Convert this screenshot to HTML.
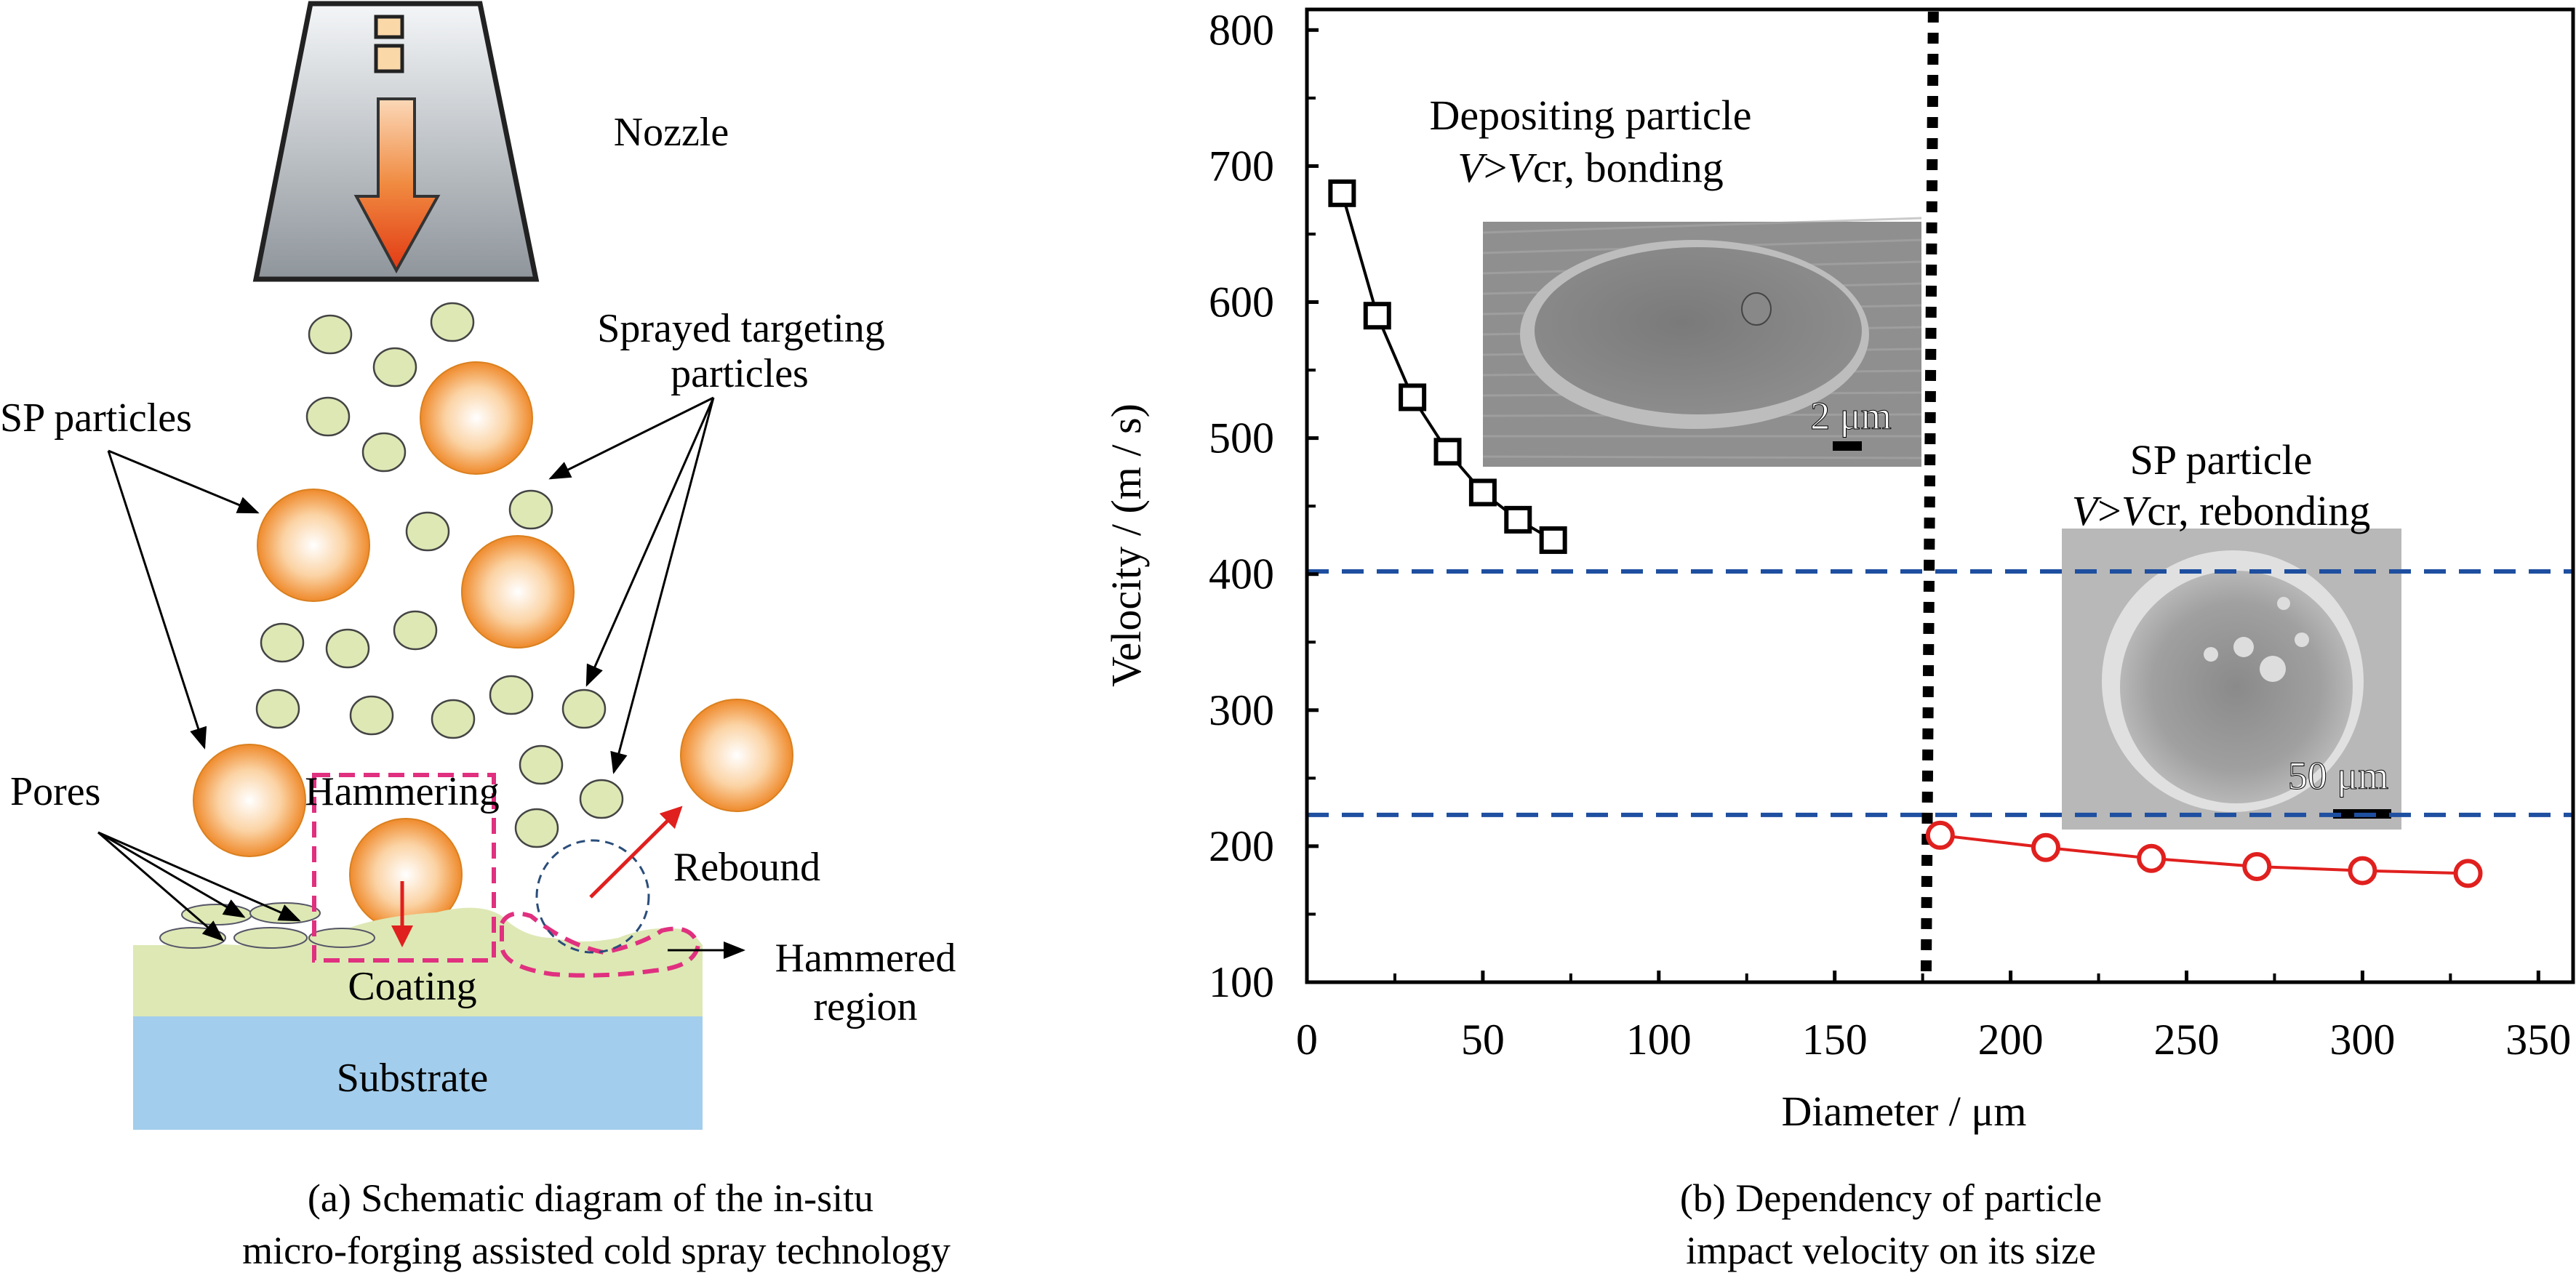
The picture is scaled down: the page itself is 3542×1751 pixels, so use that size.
<!DOCTYPE html>
<html><head><meta charset="utf-8"><style>
html,body{margin:0;padding:0;background:#fff;}
svg{display:block;}
svg text{font-family:"Liberation Serif","Times New Roman","Nimbus Roman","DejaVu Serif","Noto Serif CJK SC",serif;}
</style></head><body>
<svg width="3542" height="1751" viewBox="0 0 3542 1751" xmlns="http://www.w3.org/2000/svg">
<defs>
<linearGradient id="noz" x1="0" y1="0" x2="0" y2="1"><stop offset="0" stop-color="#f4f6f8"/><stop offset="1" stop-color="#8e959b"/></linearGradient>
<linearGradient id="arr" x1="0" y1="0" x2="0" y2="1"><stop offset="0" stop-color="#fbd8b8"/><stop offset="0.5" stop-color="#f08a40"/><stop offset="1" stop-color="#e23a14"/></linearGradient>
<radialGradient id="orb" cx="0.5" cy="0.5" r="0.5"><stop offset="0" stop-color="#fff"/><stop offset="0.55" stop-color="#fbd3a4"/><stop offset="1" stop-color="#ef8a2c"/></radialGradient>
<radialGradient id="sem1" cx="0.45" cy="0.45" r="0.6"><stop offset="0" stop-color="#7a7a7a"/><stop offset="1" stop-color="#8e8e8e"/></radialGradient>
<radialGradient id="sem2" cx="0.5" cy="0.5" r="0.6"><stop offset="0" stop-color="#8a8a8a"/><stop offset="0.6" stop-color="#a0a0a0"/><stop offset="1" stop-color="#c8c8c8"/></radialGradient>
<marker id="ah" markerWidth="10" markerHeight="8" refX="9" refY="4" orient="auto" markerUnits="strokeWidth"><path d="M0,0 L10,4 L0,8 Z" fill="#000"/></marker>
<marker id="ahr" markerWidth="6" markerHeight="6" refX="5" refY="3" orient="auto" markerUnits="strokeWidth"><path d="M0,0 L6,3 L0,6 Z" fill="#e0201e"/></marker>
</defs>

<g>
<polygon points="427,5 660,5 737,384 352,384" fill="url(#noz)" stroke="#222" stroke-width="7"/>
<rect x="517" y="23" width="36" height="28" fill="#fbd8a8" stroke="#222" stroke-width="5"/>
<rect x="517" y="63" width="36" height="35" fill="#fbd8a8" stroke="#222" stroke-width="5"/>
<polygon points="520,136 570,136 570,270 602,270 545,372 490,270 520,270" fill="url(#arr)" stroke="#333" stroke-width="4"/>
<text x="923" y="200" font-size="56" text-anchor="middle">Nozzle</text>

<g fill="#dde8b5" stroke="#444" stroke-width="2.5">
<ellipse cx="454" cy="460" rx="29" ry="26"/><ellipse cx="622" cy="443" rx="29" ry="26"/><ellipse cx="543" cy="505" rx="29" ry="26"/>
<ellipse cx="451" cy="573" rx="29" ry="26"/><ellipse cx="528" cy="622" rx="29" ry="26"/><ellipse cx="588" cy="731" rx="29" ry="26"/>
<ellipse cx="730" cy="701" rx="29" ry="26"/><ellipse cx="388" cy="884" rx="29" ry="26"/><ellipse cx="478" cy="892" rx="29" ry="26"/>
<ellipse cx="571" cy="867" rx="29" ry="26"/><ellipse cx="382" cy="975" rx="29" ry="26"/><ellipse cx="511" cy="984" rx="29" ry="26"/>
<ellipse cx="623" cy="989" rx="29" ry="26"/><ellipse cx="703" cy="956" rx="29" ry="26"/><ellipse cx="803" cy="975" rx="29" ry="26"/>
<ellipse cx="744" cy="1052" rx="29" ry="26"/><ellipse cx="827" cy="1099" rx="29" ry="26"/><ellipse cx="738" cy="1139" rx="29" ry="26"/>
</g>
<g fill="url(#orb)" stroke="#d9801f" stroke-width="2">
<circle cx="655" cy="575" r="77"/><circle cx="431" cy="750" r="77"/><circle cx="712" cy="814" r="77"/>
<circle cx="343" cy="1101" r="77"/><circle cx="558" cy="1203" r="77"/><circle cx="1013" cy="1039" r="77"/>
</g>
<rect x="183" y="1300" width="783" height="100" fill="#dde8b5"/>
<path d="M183,1310 Q250,1295 330,1300 Q420,1290 470,1280 Q520,1260 600,1255 Q660,1240 690,1260 Q720,1290 760,1290 Q800,1300 850,1290 Q900,1270 950,1280 L966,1300 L183,1300 Z" fill="#dde8b5"/>
<rect x="183" y="1398" width="783" height="156" fill="#a3cdec"/>
<g fill="#dde8b5" stroke="#556" stroke-width="2">
<ellipse cx="298" cy="1258" rx="48" ry="14"/><ellipse cx="392" cy="1256" rx="48" ry="14"/><ellipse cx="265" cy="1290" rx="45" ry="14"/><ellipse cx="372" cy="1290" rx="50" ry="14"/><ellipse cx="470" cy="1290" rx="45" ry="13"/>
</g>
<rect x="432" y="1066" width="247" height="255" fill="none" stroke="#e0307f" stroke-width="6" stroke-dasharray="22,12"/>
<path d="M690,1270 Q700,1250 730,1260 Q780,1300 830,1310 Q880,1300 910,1280 Q950,1270 960,1300 Q955,1330 900,1335 Q830,1345 760,1340 Q690,1330 690,1300 Z" fill="none" stroke="#e0307f" stroke-width="6" stroke-dasharray="22,12"/>
<circle cx="815" cy="1233" r="77" fill="none" stroke="#2a4d7a" stroke-width="3" stroke-dasharray="12,8"/>
<line x1="812" y1="1234" x2="935" y2="1112" stroke="#e0201e" stroke-width="5" marker-end="url(#ahr)"/>
<line x1="553" y1="1212" x2="553" y2="1298" stroke="#e0201e" stroke-width="5" marker-end="url(#ahr)"/>
<g stroke="#000" stroke-width="3" fill="none">
<line x1="149" y1="620" x2="354" y2="705" marker-end="url(#ah)"/>
<line x1="149" y1="620" x2="281" y2="1028" marker-end="url(#ah)"/>
<line x1="981" y1="547" x2="757" y2="658" marker-end="url(#ah)"/>
<line x1="981" y1="547" x2="807" y2="942" marker-end="url(#ah)"/>
<line x1="981" y1="547" x2="844" y2="1062" marker-end="url(#ah)"/>
<line x1="135" y1="1145" x2="335" y2="1261" marker-end="url(#ah)"/>
<line x1="135" y1="1145" x2="306" y2="1293" marker-end="url(#ah)"/>
<line x1="135" y1="1145" x2="411" y2="1266" marker-end="url(#ah)"/>
<line x1="918" y1="1307" x2="1022" y2="1307" marker-end="url(#ah)"/>
</g>
<g font-size="56">
<text x="1019" y="470" text-anchor="middle">Sprayed targeting</text>
<text x="1017" y="532" text-anchor="middle">particles</text>
<text x="0" y="593">SP particles</text>
<text x="14" y="1107">Pores</text>
<text x="553" y="1107" text-anchor="middle">Hammering</text>
<text x="1027" y="1211" text-anchor="middle">Rebound</text>
<text x="1190" y="1336" text-anchor="middle">Hammered</text>
<text x="1190" y="1403" text-anchor="middle">region</text>
<text x="567" y="1375" text-anchor="middle">Coating</text>
<text x="567" y="1501" text-anchor="middle">Substrate</text>
</g>
<text x="812" y="1666" font-size="54" text-anchor="middle">(a) Schematic diagram of the in-situ</text>
<text x="820" y="1738" font-size="54" text-anchor="middle">micro-forging assisted cold spray technology</text>
</g>

<g id="chart"></g>
</svg>
<script>
const depDiam = [10,20,30,40,50,60,70];
const depVel = [680,590,530,490,460,440,425];
const spDiam = [180,210,240,270,300,330];
const spVel = [208,199,191,185,182,180];
const xTicks = [0,50,100,150,200,250,300,350];
const yTicks = [100,200,300,400,500,600,700,800];
const thresholds = [402,223];
const dividerDiam = 177;

const NS='http://www.w3.org/2000/svg';
const g=document.getElementById('chart');
const X0=1797, XPX=241.9/50, Y0=1351, YPX=187.1/100;
const xs=v=>X0+v*XPX, ys=v=>Y0-(v-100)*YPX;
function mk(tag,attrs,parent){const e=document.createElementNS(NS,tag);for(const k in attrs)e.setAttribute(k,attrs[k]);(parent||g).appendChild(e);return e;}

let s1=mk('g',{});


mk('rect',{x:2039,y:305,width:603,height:337,fill:'#8f8f8f'},s1);
for(let i=0;i<12;i++){mk('line',{x1:2039,y1:320+i*28,x2:2642,y2:300+i*30,stroke:'#a8a8a8','stroke-width':3,opacity:0.6},s1);}
mk('ellipse',{cx:2330,cy:460,rx:240,ry:130,fill:'#bdbdbd'},s1);
mk('ellipse',{cx:2335,cy:455,rx:225,ry:115,fill:'url(#sem1)'},s1);
mk('ellipse',{cx:2415,cy:425,rx:20,ry:22,fill:'#888',stroke:'#444','stroke-width':2},s1);
let t=mk('text',{x:2545,y:590,'font-size':54,fill:'#fff',stroke:'#000','stroke-width':1,'text-anchor':'middle'},s1);t.textContent='2 μm';
mk('rect',{x:2520,y:607,width:40,height:13,fill:'#000'},s1);

let s2=mk('g',{});


mk('rect',{x:2835,y:727,width:467,height:414,fill:'#b8b8b8'},s2);
mk('circle',{cx:3070,cy:937,r:180,fill:'#e0e0e0'},s2);
mk('circle',{cx:3075,cy:945,r:160,fill:'url(#sem2)'},s2);
[[3085,890,14],[3125,920,18],[3040,900,10],[3165,880,10],[3140,830,9]].forEach(c=>mk('circle',{cx:c[0],cy:c[1],r:c[2],fill:'#ddd'},s2));
t=mk('text',{x:3215,y:1085,'font-size':54,fill:'#fff',stroke:'#000','stroke-width':1,'text-anchor':'middle'},s2);t.textContent='50 μm';
mk('rect',{x:3208,y:1113,width:80,height:13,fill:'#000'},s2);

thresholds.forEach((v,i)=>{const l=mk('line',{x1:X0,x2:3538,y1:ys(v),y2:ys(v),stroke:'#1e4fa0','stroke-width':6,'stroke-dasharray':'30,18'});

});
let dv=mk('line',{x1:xs(dividerDiam)+5,y1:16,x2:xs(dividerDiam)-5,y2:Y0,stroke:'#000','stroke-width':15,'stroke-dasharray':'15,14'});



let fr=mk('rect',{x:X0,y:13,width:3538-X0,height:Y0-13,fill:'none',stroke:'#000','stroke-width':5});



yTicks.forEach(v=>{mk('line',{x1:X0,x2:X0+16,y1:ys(v),y2:ys(v),stroke:'#000','stroke-width':5});
 if(v<800) mk('line',{x1:X0,x2:X0+12,y1:ys(v+50),y2:ys(v+50),stroke:'#000','stroke-width':4});
 const tl=mk('text',{x:X0-45,y:ys(v)+20,'font-size':60,'text-anchor':'end'});
 
 
 tl.textContent=v;});
xTicks.forEach(v=>{mk('line',{x1:xs(v),x2:xs(v),y1:Y0,y2:Y0-16,stroke:'#000','stroke-width':5});
 if(v<350) mk('line',{x1:xs(v+25),x2:xs(v+25),y1:Y0,y2:Y0-12,stroke:'#000','stroke-width':4});
 const tl=mk('text',{x:xs(v),y:1450,'font-size':60,'text-anchor':'middle'});
 
 
 tl.textContent=v;});

let p1=mk('polyline',{points:depDiam.map((d,i)=>xs(d)+','+ys(depVel[i])).join(' '),fill:'none',stroke:'#000','stroke-width':4});


depDiam.forEach((d,i)=>{const r=mk('rect',{x:xs(d)-16,y:ys(depVel[i])-16,width:32,height:32,fill:'#fff',stroke:'#000','stroke-width':6});
 
 });
let p2=mk('polyline',{points:spDiam.map((d,i)=>xs(d)+','+ys(spVel[i])).join(' '),fill:'none',stroke:'#e0201e','stroke-width':4});


spDiam.forEach((d,i)=>{const c=mk('circle',{cx:xs(d),cy:ys(spVel[i]),r:17,fill:'#fff',stroke:'#e0201e','stroke-width':6});
 
 });

function txt(x,y,html,name,extra){const e=mk('text',Object.assign({x:x,y:y,'font-size':58,'text-anchor':'middle'},extra||{}));e.innerHTML=html;
 
 return e;}
txt(2187,178,'Depositing particle','depositing-label');
txt(2187,250,'<tspan font-style="italic">V</tspan>&gt;<tspan font-style="italic">V</tspan>cr, bonding','depositing-condition');
txt(3054,652,'SP particle','sp-label');
txt(3054,722,'<tspan font-style="italic">V</tspan>&gt;<tspan font-style="italic">V</tspan>cr, rebonding','sp-condition');
txt(2618,1548,'Diameter / μm','x-axis-title',{'font-size':58});
txt(1568,750,'Velocity / (m / s)','y-axis-title',{'font-size':58,transform:'rotate(-90 1568 750)'});
txt(2600,1666,'(b) Dependency of particle','caption-b-line1',{'font-size':54});
txt(2600,1738,'impact velocity on its size','caption-b-line2',{'font-size':54});
</script>
</body></html>
